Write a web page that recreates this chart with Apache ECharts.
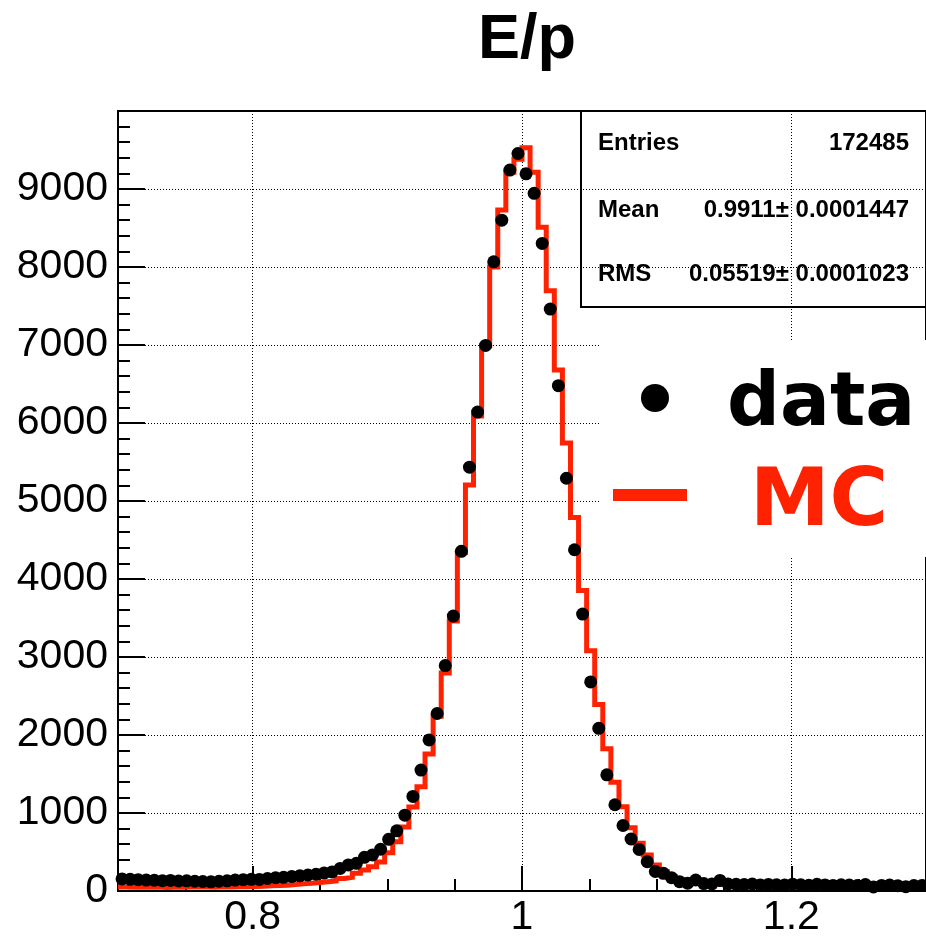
<!DOCTYPE html>
<html>
<head>
<meta charset="utf-8">
<script src="https://cdn.jsdelivr.net/npm/echarts@6/dist/echarts.min.js"></script>
<style>
  html, body { margin: 0; padding: 0; background: #fff; }
  #chart { width: 926px; height: 940px; }
</style>
</head>
<body>
<div id="chart"></div>
<script>
// Histogram binning: 100 bins of width 0.006 over E/p in [0.7, 1.3]
const binLow = 0.7;
const binWidth = 0.006;
const binCount = 100;

// Data counts per bin (black points)
const dataCounts = [
  155, 150, 145, 140, 138, 132, 135, 128, 130, 125,
  122, 118, 125, 130, 140, 145, 150, 148, 160, 170,
  175, 185, 195, 205, 215, 230, 245, 290, 334, 355,
  432, 462, 535, 662, 772, 972, 1212, 1550, 1937, 2276,
  2890, 3525, 4355, 5434, 6140, 6994, 8066, 8600, 9242, 9455,
  9195, 8945, 8302, 7460, 6479, 5292, 4375, 3550, 2680, 2085,
  1490, 1106, 840, 667, 532, 376, 250, 227, 171, 119,
  100, 141, 95, 90, 135, 90, 85, 82, 90, 78,
  84, 80, 76, 88, 80, 74, 86, 78, 72, 80,
  76, 70, 82, 52, 72, 76, 68, 55, 70, 72
];

// Simulation counts per bin (red histogram)
const mcCounts = [
  50, 48, 52, 47, 50, 46, 49, 48, 52, 50,
  51, 49, 53, 52, 55, 56, 58, 62, 66, 70,
  75, 82, 92, 100, 108, 118, 128, 160, 175, 227,
  268, 312, 372, 490, 630, 820, 1078, 1335, 1758, 2240,
  2795, 3460, 4340, 5205, 6090, 6990, 8000, 8730, 9215, 9380,
  9530, 9215, 8510, 7695, 6680, 5743, 4790, 3853, 3080, 2392,
  1825, 1395, 1080, 810, 612, 462, 334, 248, 184, 141,
  115, 100, 92, 88, 85, 84, 82, 80, 80, 78,
  77, 76, 75, 75, 74, 73, 72, 72, 71, 70,
  70, 69, 68, 68, 67, 66, 66, 65, 65, 64
];

// Axis ticks and labels
const xRange = [0.7, 1.3];
const xLabelValues = [0.8, 1.0, 1.2];
const yRange = [0, 10000];
const yStep = 1000;

// Statistics box rows
const statsRows = [
  ['Entries', '172485'],
  ['Mean', '0.9911\u00b1 0.0001447'],
  ['RMS', '0.05519\u00b1 0.0001023']
];

const chartTitle = 'E/p';
const legendNames = ['data', 'MC'];

const RED = '#ff2200';
const FONT = '"Liberation Sans", Arial, Helvetica, sans-serif';
const LEGEND_FONT = '"DejaVu Sans", sans-serif';

const round4 = v => Math.round(v * 1e6) / 1e6;

// Points at bin centres
const dataPoints = dataCounts.map((c, i) => [round4(binLow + (i + 0.5) * binWidth), c]);
// Step outline: one point per left bin edge, plus the closing right edge
const mcPoints = mcCounts.map((c, i) => [round4(binLow + i * binWidth), c]);
mcPoints.push([round4(binLow + binCount * binWidth), mcCounts[binCount - 1]]);

const chart = echarts.init(document.getElementById('chart'), null, { renderer: 'canvas' });

const dotted = { color: '#000', width: 1, type: [1, 2] };

const option = {
  animation: false,
  backgroundColor: '#fff',
  title: {
    text: chartTitle,
    left: 473,
    top: 4,
    textStyle: { fontFamily: FONT, fontSize: 63, fontWeight: 'bold', color: '#000' }
  },
  grid: {
    left: 118, right: 0, top: 111, bottom: 49,
    show: true, borderColor: '#000', borderWidth: 2, backgroundColor: 'transparent'
  },
  xAxis: [
    {
      type: 'value', min: xRange[0], max: xRange[1], interval: 0.05,
      position: 'bottom',
      axisLine: { show: true, onZero: false, lineStyle: { color: '#000', width: 2 } },
      axisTick: { show: true, inside: true, length: 12, lineStyle: { color: '#000', width: 2 } },
      axisLabel: { show: false },
      splitLine: { show: false }
    },
    {
      type: 'value', min: xRange[0], max: xRange[1], interval: 0.1,
      position: 'bottom',
      axisLine: { show: false },
      axisTick: { show: true, inside: true, length: 25, customValues: xLabelValues, lineStyle: { color: '#000', width: 2 } },
      axisLabel: {
        show: true, customValues: xLabelValues, margin: 6,
        fontFamily: FONT, fontSize: 41, color: '#000',
        formatter: v => String(Math.round(v * 10) / 10)
      },
      splitLine: { show: true, lineStyle: dotted }
    }
  ],
  yAxis: {
    type: 'value', min: yRange[0], max: yRange[1], interval: yStep,
    axisLine: { show: true, onZero: false, lineStyle: { color: '#000', width: 2 } },
    axisTick: { show: true, inside: true, length: 27, lineStyle: { color: '#000', width: 2 } },
    minorTick: { show: true, splitNumber: 5, length: 12, lineStyle: { color: '#000', width: 2 } },
    axisLabel: {
      margin: 10, fontFamily: FONT, fontSize: 41, color: '#000',
      formatter: v => (v >= yRange[1] ? '' : String(v))
    },
    splitLine: { show: true, lineStyle: dotted }
  },
  series: [
    {
      name: legendNames[1],
      type: 'line',
      xAxisIndex: 0,
      data: mcPoints,
      step: 'end',
      showSymbol: false,
      symbol: 'none',
      lineStyle: { color: RED, width: 5, cap: 'butt', join: 'miter' },
      z: 3,
      silent: true
    },
    {
      name: legendNames[0],
      type: 'scatter',
      xAxisIndex: 0,
      data: dataPoints,
      symbol: 'circle',
      symbolSize: 13,
      itemStyle: { color: '#000', opacity: 1 },
      z: 4,
      silent: true
    }
  ],
  graphic: [
    // statistics box (grid lines stay visible through it)
    {
      type: 'rect', z: -10,
      shape: { x: 581, y: 111, width: 360, height: 196 },
      style: { fill: '#fff', stroke: '#000', lineWidth: 2 }
    },
    ...statsRows.map((row, i) => ({
      type: 'text', z: -5,
      x: 598, y: [143, 210, 274][i],
      style: { text: row[0], font: 'bold 24px ' + FONT, fill: '#000', align: 'left', verticalAlign: 'middle' }
    })),
    ...statsRows.map((row, i) => ({
      type: 'text', z: -5,
      x: 909, y: [143, 210, 274][i],
      style: { text: row[1], font: 'bold 24px ' + FONT, fill: '#000', align: 'right', verticalAlign: 'middle' }
    })),
    // legend panel
    {
      type: 'rect', z: 50,
      shape: { x: 600, y: 340, width: 330, height: 217 },
      style: { fill: '#fff', lineWidth: 0 }
    },
    {
      type: 'circle', z: 51,
      shape: { cx: 655, cy: 398, r: 14 },
      style: { fill: '#000' }
    },
    {
      type: 'text', z: 51,
      x: 727, y: 406,
      style: { text: legendNames[0], font: 'bold 74px ' + LEGEND_FONT, fill: '#000', align: 'left', verticalAlign: 'middle' }
    },
    {
      type: 'rect', z: 51,
      shape: { x: 613, y: 489, width: 74, height: 12 },
      style: { fill: RED }
    },
    {
      type: 'text', z: 51,
      x: 750, y: 504,
      style: { text: legendNames[1], font: 'bold 80px ' + LEGEND_FONT, fill: RED, align: 'left', verticalAlign: 'middle' }
    }
  ]
};

chart.setOption(option);
</script>
</body>
</html>
